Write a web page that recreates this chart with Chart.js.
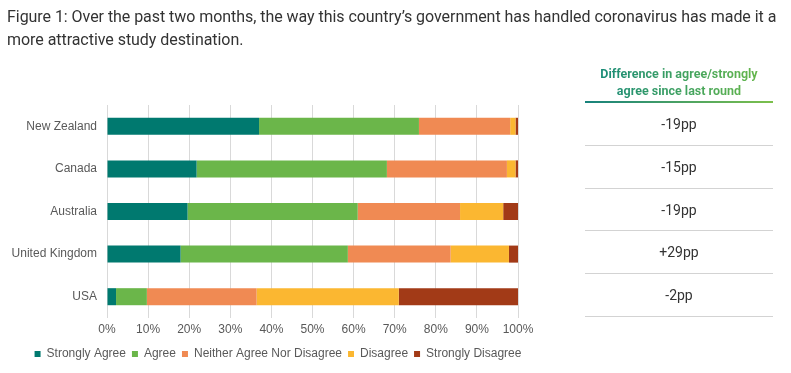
<!DOCTYPE html>
<html lang="en">
<head>
<meta charset="UTF-8">
<title>Figure 1</title>
<style>
    body { margin: 0; background: #fff; }
    .wrap { position: relative; width: 791px; height: 373px; overflow: hidden; }
    .titulo {
        position: absolute; left: 7px; top: 5px; width: 785px;
        font-family: Roboto, "Liberation Sans", sans-serif; font-size: 16px; line-height: 23px; color: #333;
        white-space: nowrap; letter-spacing: -0.05px;
    }
    #chart1 { position: absolute; left: 0; top: 0; }
    .tabela { position: absolute; left: 585px; top: 66px; width: 188px; font-family: Roboto, "Liberation Sans", sans-serif; }
    .tabela .cab {
        text-align: center; font-weight: bold; font-size: 12.5px; line-height: 16.5px;
        background: linear-gradient(90deg, #11877b, #6cba47);
        -webkit-background-clip: text; background-clip: text; color: transparent;
        padding-bottom: 2px;
    }
    .tabela .linha-cab { height: 2px; background: linear-gradient(90deg, #17827c, #7cc04c); }
    .tabela .linha {
        height: 41.8px; line-height: 43px; text-align: center; font-size: 14px; color: #333;
        border-bottom: 1.5px solid #d3d3d3;
    }
</style>
</head>
<body>
<div class="wrap">
    <canvas id="chart1" width="791" height="373"></canvas>
    <div class="titulo">Figure 1: Over the past two months, the way this country’s government has handled coronavirus has made it a<br>more attractive study destination.</div>
    <div class="tabela" id="tabela">
        <div class="cab">Difference in agree/strongly<br>agree since last round</div>
        <div class="linha-cab"></div>
    </div>
</div>
<script src="https://cdn.jsdelivr.net/npm/chart.js"></script>
<script>
    var paises = ['New Zealand', 'Canada', 'Australia', 'United Kingdom', 'USA'];
    var stronglyAgree = [37, 21.8, 19.6, 17.9, 2.2];
    var agree = [38.9, 46.3, 41.4, 40.7, 7.5];
    var neither = [22.2, 29.2, 24.9, 25, 26.7];
    var disagree = [1.3, 2.1, 10.5, 14.2, 34.6];
    var stronglyDisagree = [0.6, 0.6, 3.6, 2.2, 29];
    var diferencas = ['-19pp', '-15pp', '-19pp', '+29pp', '-2pp'];

    var tabela = document.getElementById('tabela');
    diferencas.forEach(function (d) {
        var el = document.createElement('div');
        el.className = 'linha';
        el.textContent = d;
        tabela.appendChild(el);
    });

    // empurra a legenda para a direita (fica centralizada como no original)
    var moverLegenda = {
        id: 'moverLegenda',
        afterLayout: function (chart) {
            chart.legend.left += 19;
            chart.legend.right += 19;
        }
    };

    var fonte = { family: '"Liberation Sans", Arial, sans-serif', size: 12 };

    const ctx = document.getElementById('chart1');
    var chart1 = new Chart(ctx, {
        type: 'bar',
        data: {
            labels: paises,
            datasets: [
                { label: 'Strongly Agree', data: stronglyAgree, backgroundColor: '#00796f' },
                { label: 'Agree', data: agree, backgroundColor: '#6bb64a' },
                { label: 'Neither Agree Nor Disagree', data: neither, backgroundColor: '#f08a53' },
                { label: 'Disagree', data: disagree, backgroundColor: '#fbb731' },
                { label: 'Strongly Disagree', data: stronglyDisagree, backgroundColor: '#a23a17' }
            ]
        },
        options: {
            indexAxis: 'y',
            responsive: false,
            animation: false,
            layout: { padding: { top: 105, left: 0, right: 273, bottom: 3 } },
            datasets: { bar: { categoryPercentage: 1, barPercentage: 0.4 } },
            scales: {
                x: {
                    stacked: true,
                    min: 0,
                    max: 100,
                    grid: { color: '#d9d9d9', lineWidth: 1, drawTicks: false },
                    border: { display: false },
                    ticks: { stepSize: 10, padding: 4, color: '#595959', font: fonte, callback: function (v) { return v + '%'; } },
                    afterFit: function (s) { s.height = 24; }
                },
                y: {
                    stacked: true,
                    grid: { display: false, drawTicks: false },
                    border: { display: false },
                    ticks: { padding: 10, color: '#595959', font: fonte },
                    afterFit: function (s) { s.width = 107; }
                }
            },
            plugins: {
                legend: {
                    position: 'bottom',
                    labels: { boxWidth: 6, boxHeight: 6, padding: 6, color: '#595959', font: fonte }
                },
                tooltip: { enabled: false }
            }
        },
        plugins: [moverLegenda]
    });
</script>
</body>
</html>
